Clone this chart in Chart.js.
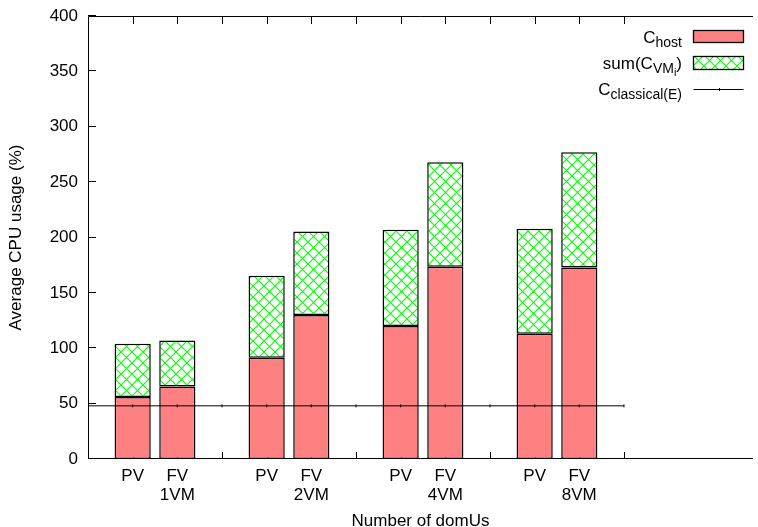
<!DOCTYPE html>
<html>
<head>
<meta charset="utf-8">
<script src="https://cdn.jsdelivr.net/npm/chart.js@4.4.1/dist/chart.umd.min.js"></script>
<style>
html,body{margin:0;padding:0;background:#fff;overflow:hidden}
#wrap{width:758px;height:527px;position:relative}
</style>
</head>
<body>
<div id="wrap"><canvas id="c" width="758" height="527"></canvas></div>
<script>
// ---- data ----
const barSlots = [0, 1, 3, 4, 6, 7, 9, 10];
const hostValues = [56, 65.5, 91.5, 130, 120, 173.5, 113, 173];
const vmValues = [48, 41.5, 74, 75.5, 87, 94.5, 95, 104];
const classicalSlots = [-1, 0, 1, 2, 3, 4, 5, 6, 7, 8, 9, 10, 11];
const classicalValues = [48, 48, 48, 48, 48, 48, 48, 48, 48, 48, 48, 48, 48];
const xTickSlots = [0, 1, 2, 3, 4, 5, 6, 7, 8, 9, 10, 11];
const xTickLabels = [["PV"], ["FV", "1VM"], [""], ["PV"], ["FV", "2VM"], [""], ["PV"], ["FV", "4VM"], [""], ["PV"], ["FV", "8VM"], [""]];
const yTickValues = [0, 50, 100, 150, 200, 250, 300, 350, 400];
const legendHost = [["C", 0], ["host", 1]];
const legendVM = [["sum(C", 0], ["VM", 1], ["i", 2], [")", 0]];
const legendClassical = [["C", 0], ["classical(E)", 1]];
const xTitle = "Number of domUs";
const yTitle = "Average CPU usage (%)";

const FAM = '"Liberation Sans", Arial, Helvetica, sans-serif';
Chart.defaults.font.family = FAM;
Chart.defaults.font.size = 17;
Chart.defaults.color = '#000';

function makeHatch() {
  const c = document.createElement('canvas');
  c.width = 11; c.height = 11;
  const g = c.getContext('2d');
  g.fillStyle = '#fff'; g.fillRect(0, 0, 11, 11);
  g.strokeStyle = '#00ff00'; g.lineWidth = 1.1;
  g.beginPath();
  g.moveTo(-2, -2); g.lineTo(13, 13);
  g.moveTo(13, -2); g.lineTo(-2, 13);
  g.stroke();
  return document.getElementById('c').getContext('2d').createPattern(c, 'repeat');
}
const hatch = makeHatch();

const framePlugin = {
  id: 'frame',
  beforeDatasetsDraw(chart) {
    const { ctx, chartArea: a, scales: { x, y } } = chart;
    ctx.save();
    ctx.strokeStyle = '#000'; ctx.lineWidth = 1;
    ctx.beginPath();
    xTickSlots.forEach(v => {
      const px = Math.round(x.getPixelForValue(v)) + 0.5;
      ctx.moveTo(px, a.bottom); ctx.lineTo(px, a.bottom - 7);
      ctx.moveTo(px, a.top); ctx.lineTo(px, a.top + 8);
    });
    yTickValues.forEach(v => {
      const py = Math.round(y.getPixelForValue(v)) - 0.5;
      ctx.moveTo(a.left, py); ctx.lineTo(a.left + 8, py);
    });
    ctx.stroke();
    ctx.restore();
  },
  afterDatasetsDraw(chart) {
    const { ctx, chartArea: a } = chart;
    ctx.save();
    ctx.strokeStyle = '#000'; ctx.lineWidth = 1;
    ctx.beginPath();
    ctx.moveTo(a.right, a.top + 0.5);
    ctx.lineTo(a.left + 0.5, a.top + 0.5);
    ctx.lineTo(a.left + 0.5, a.bottom - 0.5);
    ctx.lineTo(a.right, a.bottom - 0.5);
    ctx.stroke();
    ctx.restore();
  }
};

const legendPlugin = {
  id: 'customLegend',
  afterDraw(chart) {
    const ctx = chart.ctx;
    const ds = chart.data.datasets;
    const sizes = [17, 14, 11], shifts = [0, 4, 7];
    const textRight = 682, swL = 693.5, swR = 743.5;
    const rows = [
      { parts: legendHost, base: 43, ds: 0, box: [30.5, 42.5] },
      { parts: legendVM, base: 69, ds: 1, box: [56.5, 69.5] },
      { parts: legendClassical, base: 95, ds: 2, lineY: 89.5 }
    ];
    ctx.save();
    rows.forEach(r => {
      let w = 0;
      r.parts.forEach(([t, l]) => { ctx.font = sizes[l] + 'px ' + FAM; w += ctx.measureText(t).width; });
      let xx = textRight - w;
      ctx.fillStyle = '#000'; ctx.textBaseline = 'alphabetic'; ctx.textAlign = 'left';
      r.parts.forEach(([t, l]) => {
        ctx.font = sizes[l] + 'px ' + FAM;
        ctx.fillText(t, xx, r.base + shifts[l]);
        xx += ctx.measureText(t).width;
      });
      const d = ds[r.ds];
      if (r.box) {
        ctx.fillStyle = d.backgroundColor;
        ctx.fillRect(swL, r.box[0], swR - swL, r.box[1] - r.box[0]);
        ctx.strokeStyle = d.borderColor; ctx.lineWidth = 1.3;
        ctx.strokeRect(swL, r.box[0], swR - swL, r.box[1] - r.box[0]);
      } else {
        ctx.strokeStyle = d.borderColor; ctx.lineWidth = 1;
        ctx.beginPath();
        ctx.moveTo(swL, r.lineY); ctx.lineTo(swR, r.lineY);
        const mx = Math.round((swL + swR) / 2) + 0.5;
        ctx.moveTo(mx, r.lineY - 1.5); ctx.lineTo(mx, r.lineY + 1.5);
        ctx.stroke();
      }
    });
    ctx.restore();
  }
};

new Chart(document.getElementById('c'), {
  type: 'bar',
  data: {
    datasets: [
      {
        label: 'C_host',
        data: barSlots.map((s, i) => ({ x: s, y: hostValues[i] })),
        backgroundColor: '#ff8080', borderColor: '#000', borderWidth: 1.5,
        borderSkipped: false, stack: 'bars', categoryPercentage: 1, barPercentage: 0.81, order: 1
      },
      {
        label: 'sum(C_VM_i)',
        data: barSlots.map((s, i) => ({ x: s, y: vmValues[i] })),
        backgroundColor: hatch, borderColor: '#000', borderWidth: 1.5,
        borderSkipped: false, stack: 'bars', categoryPercentage: 1, barPercentage: 0.81, order: 1
      },
      {
        type: 'line',
        label: 'C_classical(E)',
        data: classicalSlots.map((s, i) => ({ x: s, y: classicalValues[i] })),
        borderColor: '#000', borderWidth: 1, backgroundColor: '#000',
        pointStyle: 'line', pointRotation: 90, pointRadius: 1.5, pointBorderWidth: 1,
        pointBorderColor: '#000', stack: 'classical', order: 0, fill: false, tension: 0
      }
    ]
  },
  options: {
    responsive: false, animation: false, devicePixelRatio: 1,
    layout: { padding: { top: 16, right: 0, left: 0, bottom: 0 } },
    plugins: { legend: { display: false }, tooltip: { enabled: false } },
    scales: {
      x: {
        type: 'linear', min: -1, max: -1 + 670 / 45, stacked: true, offset: false,
        grid: { display: false, drawTicks: false }, border: { display: false },
        afterBuildTicks: s => { s.ticks = xTickSlots.map(v => ({ value: v })); },
        ticks: {
          autoSkip: false, maxRotation: 0, minRotation: 0, padding: 8, color: '#000',
          font: { size: 17, lineHeight: 1.1 },
          callback: v => { const i = xTickSlots.indexOf(v); return i >= 0 ? xTickLabels[i] : ''; }
        },
        afterFit: s => { s.height = 68; s.paddingLeft = 0; s.paddingRight = 0; },
        title: { display: true, text: xTitle, color: '#000', padding: { top: 0, bottom: 0 }, font: { size: 17, lineHeight: 0.7 } }
      },
      y: {
        min: 0, max: 400, stacked: true,
        grid: { display: false, drawTicks: false }, border: { display: false },
        afterBuildTicks: s => { s.ticks = yTickValues.map(v => ({ value: v })); },
        ticks: { padding: 10, color: '#000', font: { size: 17 } },
        afterFit: s => { s.width = 88; s.paddingTop = 0; s.paddingBottom = 0; },
        title: { display: true, text: yTitle, color: '#000', padding: { top: 6, bottom: 0 }, font: { size: 17, lineHeight: 1.2 } }
      }
    }
  },
  plugins: [framePlugin, legendPlugin]
});
</script>
</body>
</html>
